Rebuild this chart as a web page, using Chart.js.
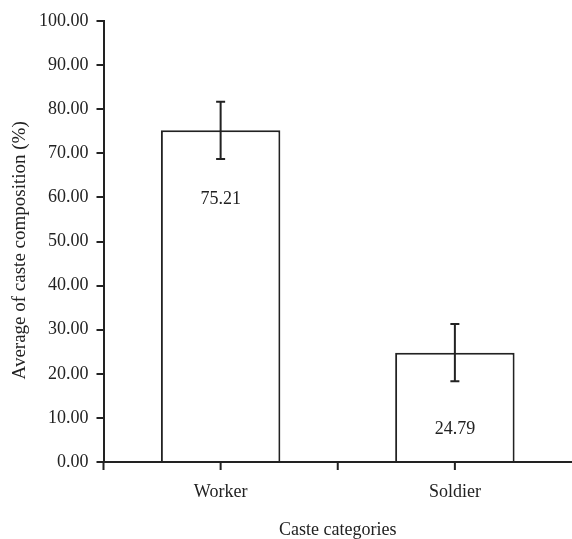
<!DOCTYPE html>
<html lang="en">
<head>
<meta charset="UTF-8">
<title>Caste composition</title>
<script src="https://cdn.jsdelivr.net/npm/chart.js"></script>
<style>
    html, body { margin: 0; padding: 0; background: #fff; }
    #wrap { width: 572px; height: 539px; }
</style>
</head>
<body>
<div id="wrap"><canvas id="mychart"></canvas></div>
<script>
    // values
    const castes = ['Worker', 'Soldier'];
    const means = [75.21, 24.79];
    const errors = [6.5, 6.5];
    const yTicks = [0, 10, 20, 30, 40, 50, 60, 70, 80, 90, 100];
    const yTitle = 'Average of caste composition (%)';

    const ink = '#222';
    const serif = 'Liberation Serif, Times New Roman, serif';

    // error bars, value labels, x tick marks and the y title
    const extras = {
        id: 'extras',
        afterDatasetsDraw(chart) {
            const ctx = chart.ctx;
            const x = chart.scales.x;
            const y = chart.scales.y;
            ctx.save();
            ctx.strokeStyle = ink;
            ctx.lineWidth = 2;
            means.forEach((m, i) => {
                const cx = x.getPixelForValue(i);
                const top = y.getPixelForValue(m + errors[i]);
                const bot = y.getPixelForValue(m - errors[i]);
                ctx.beginPath();
                ctx.moveTo(cx, top); ctx.lineTo(cx, bot);
                ctx.moveTo(cx - 4.5, top); ctx.lineTo(cx + 4.5, top);
                ctx.moveTo(cx - 4.5, bot); ctx.lineTo(cx + 4.5, bot);
                ctx.stroke();
            });

            // labels sit inside the bars (value units of where they are printed)
            const labelAt = [59.5, 7.5];
            ctx.fillStyle = ink;
            ctx.font = '18px ' + serif;
            ctx.textAlign = 'center';
            ctx.textBaseline = 'middle';
            means.forEach((m, i) => {
                ctx.fillText(m.toFixed(2), x.getPixelForValue(i), y.getPixelForValue(labelAt[i]));
            });

            // ticks at category centres and boundaries
            const half = (x.getPixelForValue(1) - x.getPixelForValue(0)) / 2;
            const yb = chart.chartArea.bottom;
            ctx.beginPath();
            for (let i = 0; i < castes.length; i++) {
                const c = x.getPixelForValue(i);
                ctx.moveTo(c - half, yb); ctx.lineTo(c - half, yb + 8);
                ctx.moveTo(c, yb); ctx.lineTo(c, yb + 8);
            }
            ctx.stroke();

            // y title, a bit below the middle of the axis as in the original
            ctx.translate(20, y.getPixelForValue(48));
            ctx.rotate(-Math.PI / 2);
            ctx.font = '19px ' + serif;
            ctx.fillText(yTitle, 0, 0);
            ctx.restore();
        }
    };

    new Chart(document.getElementById('mychart'), {
        type: 'bar',
        data: {
            labels: castes,
            datasets: [{
                data: means,
                backgroundColor: '#fff',
                borderColor: ink,
                borderWidth: 2,
                barPercentage: 0.51,
                categoryPercentage: 1
            }]
        },
        options: {
            responsive: true,
            maintainAspectRatio: false,
            animation: false,
            layout: { padding: { left: 31, top: 21, right: 0, bottom: 0 } },
            plugins: {
                legend: { display: false },
                tooltip: { enabled: false }
            },
            scales: {
                x: {
                    offset: true,
                    grid: { display: true, drawOnChartArea: false, color: 'rgba(0,0,0,0)', tickLength: 8 },
                    border: { color: ink, width: 2 },
                    ticks: { color: ink, padding: 13, font: { family: serif, size: 18, lineHeight: 1 } },
                    title: {
                        display: true,
                        text: 'Caste categories',
                        color: ink,
                        font: { family: serif, size: 18, lineHeight: 1 },
                        padding: { top: 7, bottom: 0 }
                    }
                },
                y: {
                    min: 0,
                    max: 100,
                    afterBuildTicks: axis => { axis.ticks = yTicks.map(v => ({ value: v })); },
                    grid: { drawOnChartArea: false, color: ink, lineWidth: 2, tickLength: 7 },
                    border: { color: ink, width: 2 },
                    ticks: {
                        color: ink,
                        padding: 8,
                        font: { family: serif, size: 18 },
                        callback: v => Number(v).toFixed(2)
                    }
                }
            }
        },
        plugins: [extras]
    });
</script>
</body>
</html>
